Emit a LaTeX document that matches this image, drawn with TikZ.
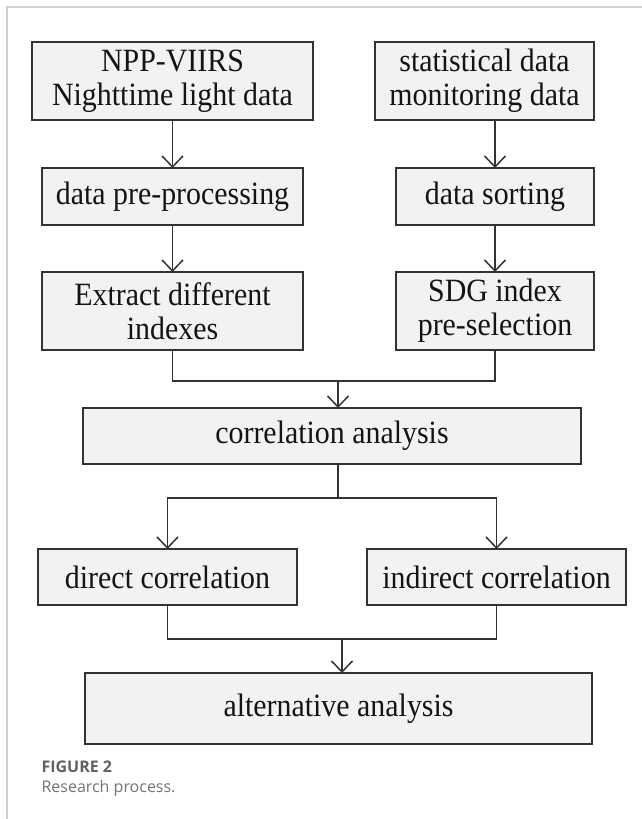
\documentclass[tikz,border=0pt]{standalone}
\usepackage{fontspec}
\setmainfont{Liberation Serif}
\newfontfamily\boxfont[FakeStretch=0.92]{Liberation Serif}
\newfontfamily\capfont{Open Sans}
\usetikzlibrary{arrows.meta}
\definecolor{boxfill}{HTML}{F2F2F2}
\definecolor{boxline}{HTML}{333333}
\definecolor{framegray}{HTML}{D0D0D0}
\tikzset{
  box/.style={draw=boxline, fill=boxfill, line width=1.5pt, rectangle, inner sep=0pt, outer sep=0pt,
    align=center, font=\boxfont\fontsize{32.5}{34}\selectfont, text=black!92},
  link/.style={draw=boxline, line width=1.5pt},
  arr/.style={link, -{Straight Barb[length=11pt,width=21pt]}},
}
\begin{document}
\begin{tikzpicture}[x=1pt,y=-1pt]
\useasboundingbox (0,0) rectangle (642,819);
\draw[framegray, line width=1.5pt] (7,819) -- (7,7) -- (642,7);

\node[box, minimum width=281pt, minimum height=78pt] (b1) at (172.5,81) {NPP-VIIRS\\Nighttime light data};
\node[box, minimum width=219pt, minimum height=78pt] (b2) at (484.5,81) {statistical data\\monitoring data};
\node[box, minimum width=261pt, minimum height=57pt] (b3) at (172.5,196.5) {data pre-processing};
\node[box, minimum width=198pt, minimum height=57pt] (b4) at (495,196.5) {data sorting};
\node[box, minimum width=261pt, minimum height=78pt] (b5) at (172.5,311) {Extract different\\indexes};
\node[box, minimum width=198pt, minimum height=78pt] (b6) at (495,311) {SDG index\\pre-selection};
\node[box, minimum width=498pt, minimum height=56pt] (b7) at (332,436) {correlation analysis};
\node[box, minimum width=259pt, minimum height=56pt] (b8) at (167.5,577) {direct correlation};
\node[box, minimum width=259pt, minimum height=56pt] (b9) at (496.5,577) {indirect correlation};
\node[box, minimum width=507pt, minimum height=71pt] (b10) at (338.5,708.5) {alternative analysis};

\coordinate (j1) at (338,381);
\coordinate (s1) at (338,498);
\coordinate (j2) at (342,639);

\draw[arr] (b1.south) -- (b3.north);
\draw[arr] (b2.south -| b4.north) -- (b4.north);
\draw[arr] (b3.south) -- (b5.north);
\draw[arr] (b4.south) -- (b6.north);

\draw[link] (b5.south) |- (j1) -| (b6.south);
\draw[arr] (j1) -- (j1 |- b7.north);

\draw[link] (s1 |- b7.south) -- (s1);
\draw[arr] (s1) -| (b8.north);
\draw[arr] (s1) -| (b9.north);

\draw[link] (b8.south) |- (j2) -| (b9.south);
\draw[arr] (j2) -- (j2 |- b10.north);

\node[anchor=west, font=\capfont\bfseries\fontsize{16}{19}\selectfont, text=black!62] (cap1) at (38,767) {FIGURE 2};
\node[anchor=west, font=\capfont\fontsize{16}{19}\selectfont, text=black!55] (cap2) at (38,788) {Research process.};
\end{tikzpicture}
\end{document}
